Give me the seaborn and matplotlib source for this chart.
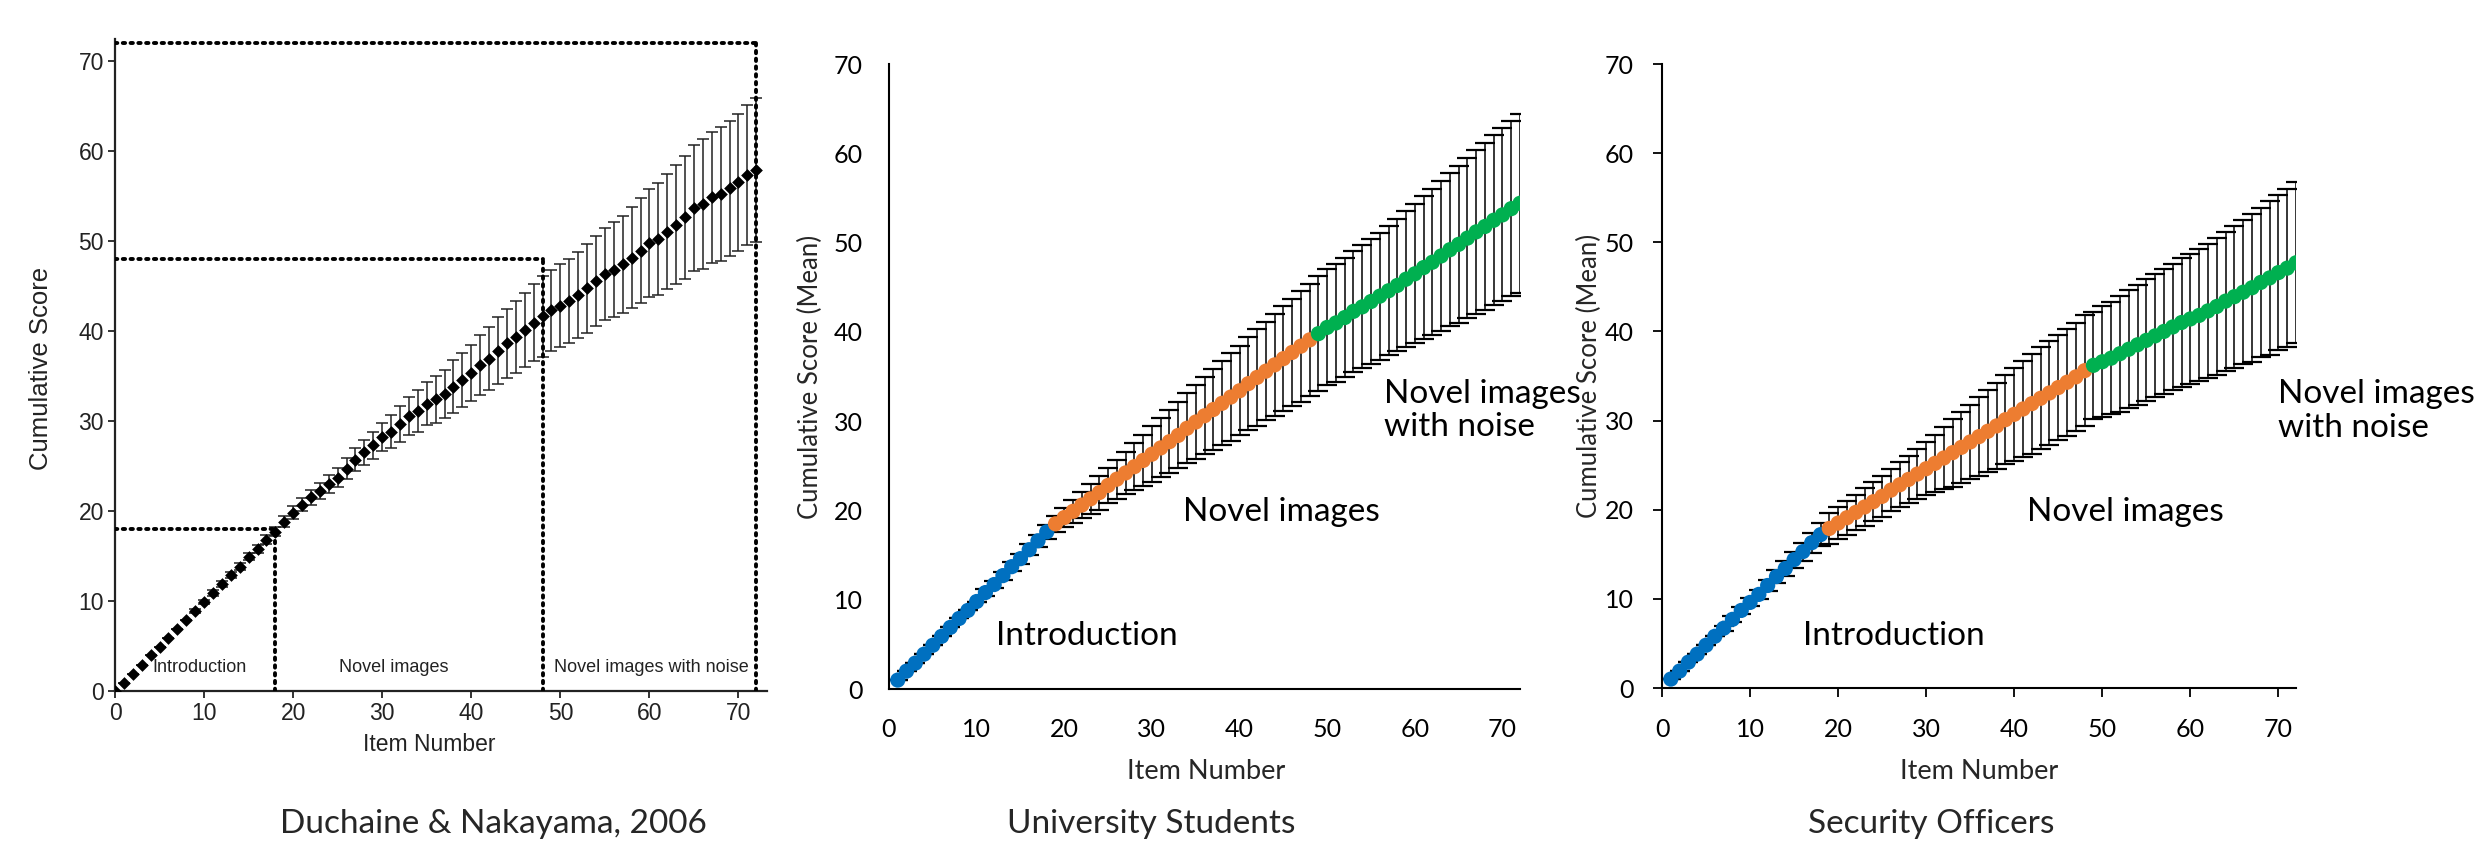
import numpy as np
import pandas as pd
import matplotlib
matplotlib.use("Agg")
import matplotlib.pyplot as plt
import seaborn as sns

# ---------------- data ----------------
# Duchaine & Nakayama (2006): items 0..72
dn_items = list(range(0, 73))
dn_mean = [0.0,
           0.9, 1.9, 2.9, 4.0, 4.9, 5.9, 6.9, 7.9, 8.9, 9.9, 10.9, 11.9, 12.9, 13.8, 14.9, 15.8, 16.8, 17.7,
           18.8, 19.8, 20.7, 21.5, 22.2, 23.0, 23.7, 24.7, 25.7, 26.5, 27.3, 28.2, 28.8, 29.7, 30.5,
           31.1, 31.9, 32.4, 33.0, 33.8, 34.5, 35.3, 36.2, 36.9, 37.8, 38.6, 39.3, 40.1, 40.9, 41.6,
           42.3, 42.8, 43.3, 44.0, 44.7, 45.5, 46.3, 46.8, 47.4, 48.1, 48.9, 49.7, 50.2, 51.0, 51.8,
           52.6, 53.6, 54.1, 54.8, 55.2, 55.8, 56.5, 57.3, 57.9]
dn_err = [0.0,
          0.0, 0.0, 0.0, 0.0, 0.0, 0.0, 0.0, 0.0, 0.2, 0.25, 0.3, 0.3, 0.35, 0.4, 0.4, 0.45, 0.5, 0.5,
          0.6, 0.7, 0.7, 0.8, 0.9, 1.0, 1.1, 1.2, 1.3, 1.4, 1.5, 1.6, 1.8, 2.0, 2.1,
          2.3, 2.4, 2.6, 2.7, 2.9, 3.0, 3.1, 3.3, 3.5, 3.7, 3.8, 4.0, 4.1, 4.3, 4.5,
          4.5, 4.6, 4.7, 4.8, 4.9, 5.0, 5.1, 5.3, 5.4, 5.6, 5.8, 6.0, 6.2, 6.4, 6.6,
          6.8, 7.0, 7.2, 7.3, 7.4, 7.5, 7.6, 7.8, 8.0]

# University Students: items 1..72
us_items = list(range(1, 73))
us_mean = [1.0, 2.0, 2.9, 3.9, 4.9, 5.9, 6.9, 7.9, 8.8, 9.8, 10.8, 11.7, 12.7, 13.7, 14.6, 15.6, 16.6, 17.6,
           18.5, 19.2, 19.9, 20.6, 21.3, 22.0, 22.8, 23.5, 24.2, 24.9, 25.6, 26.3, 27.0, 27.7, 28.4,
           29.2, 29.9, 30.6, 31.3, 32.0, 32.7, 33.4, 34.2, 34.9, 35.6, 36.3, 37.0, 37.7, 38.4, 39.1,
           39.8, 40.5, 41.0, 41.6, 42.3, 42.8, 43.4, 44.0, 44.6, 45.2, 45.9, 46.5, 47.2, 47.8, 48.5,
           49.2, 49.8, 50.5, 51.2, 51.8, 52.5, 53.1, 53.8, 54.4]
us_err = [0.0, 0.0, 0.0, 0.0, 0.0, 0.0, 0.0, 0.0, 0.0, 0.0, 0.35, 0.4, 0.45, 0.5, 0.55, 0.6, 0.7, 0.8,
          0.9, 1.1, 1.3, 1.5, 1.7, 1.9, 2.0, 2.2, 2.4, 2.6, 2.9, 3.1, 3.3, 3.5, 3.7,
          3.9, 4.1, 4.3, 4.5, 4.7, 4.9, 5.0, 5.2, 5.4, 5.5, 5.7, 5.9, 6.0, 6.2, 6.3,
          6.4, 6.5, 6.6, 6.7, 6.8, 6.9, 7.0, 7.1, 7.2, 7.4, 7.6, 7.8, 8.0, 8.2, 8.4,
          8.6, 8.8, 9.0, 9.2, 9.3, 9.5, 9.7, 9.8, 10.0]

# Security Officers: items 1..72
so_items = list(range(1, 73))
so_mean = [1.0, 1.9, 2.9, 3.8, 4.8, 5.8, 6.7, 7.7, 8.7, 9.6, 10.5, 11.5, 12.5, 13.4, 14.4, 15.3, 16.3, 17.2,
           17.9, 18.5, 19.1, 19.7, 20.3, 20.9, 21.5, 22.2, 22.8, 23.4, 24.0, 24.6, 25.2, 25.8, 26.4,
           27.0, 27.6, 28.2, 28.8, 29.4, 30.1, 30.7, 31.3, 31.9, 32.5, 33.1, 33.7, 34.3, 34.9, 35.6,
           36.2, 36.6, 37.0, 37.5, 38.0, 38.5, 39.0, 39.5, 40.0, 40.5, 41.0, 41.4, 41.8, 42.3, 42.8,
           43.4, 43.9, 44.4, 44.9, 45.5, 46.0, 46.6, 47.1, 47.7]
so_err = [0.0, 0.0, 0.0, 0.0, 0.0, 0.0, 0.3, 0.35, 0.4, 0.45, 0.5, 0.6, 0.7, 0.8, 0.9, 1.0, 1.1, 1.3,
          1.7, 1.8, 1.9, 2.0, 2.1, 2.2, 2.3, 2.4, 2.5, 2.6, 2.8, 3.0, 3.2, 3.5, 3.8,
          4.0, 4.2, 4.4, 4.6, 4.8, 5.0, 5.2, 5.4, 5.6, 5.7, 5.8, 5.9, 6.0, 6.1, 6.2,
          6.0, 6.2, 6.3, 6.5, 6.6, 6.7, 6.85, 6.9, 7.0, 7.1, 7.2, 7.25, 7.4, 7.5, 7.7,
          7.8, 7.95, 8.1, 8.3, 8.4, 8.6, 8.7, 8.9, 9.05]

phase_names = ["Introduction", "Novel images", "Novel images with noise"]
phase_ends = [18, 48, 72]
phase_colors = ["#0070C0", "#ED7D31", "#00B050"]

y_ticks = [0, 10, 20, 30, 40, 50, 60, 70]
x_ticks = [0, 10, 20, 30, 40, 50, 60, 70]
captions = ["Duchaine & Nakayama, 2006", "University Students", "Security Officers"]
x_label = "Item Number"
dn_y_label = "Cumulative Score"
y_label = "Cumulative Score (Mean)"


def phase_of(i):
    for name, end in zip(phase_names, phase_ends):
        if i <= end:
            return name
    return phase_names[-1]


# ---------------- style ----------------
sns.set_theme(style="white")
plt.rcParams["font.family"] = ["Lato", "DejaVu Sans"]
plt.rcParams["axes.linewidth"] = 1.4

W, H = 2475, 846
fig = plt.figure(figsize=(W / 100, H / 100), dpi=100)
fig.patch.set_facecolor("white")


def ax_at(x0, y_bottom_px, w, h):
    return fig.add_axes([x0 / W, (H - y_bottom_px) / H, w / W, h / H])


# ---------------- left panel (Duchaine & Nakayama) ----------------
LF = "Liberation Sans"
ax1 = ax_at(115, 691, 652, 652)
ax1.set_xlim(0, 73.2)
ax1.set_ylim(0, 72.4)
ax1.errorbar(dn_items, dn_mean, yerr=dn_err, fmt="none", ecolor="#222222",
             elinewidth=1.1, capsize=4.5, capthick=1.1, zorder=2)
dn_df = pd.DataFrame({"item": dn_items, "score": dn_mean})
sns.scatterplot(data=dn_df, x="item", y="score", ax=ax1, marker="D", s=42,
                color="black", edgecolor="black", linewidth=0, legend=False, zorder=3)
dot = dict(color="black", lw=2.8, linestyle=(0, (0.6, 1.4)), dash_capstyle="round", zorder=4)
for end in phase_ends:
    ax1.plot([0, end], [end, end], **dot)
    ax1.plot([end, end], [0, end], **dot)
ax1.set_xticks(x_ticks)
ax1.set_yticks(y_ticks)
ax1.set_xticklabels([str(t) for t in x_ticks], family=LF, fontsize=16.5, color="#222222")
ax1.set_yticklabels([str(t) for t in y_ticks], family=LF, fontsize=16.5, color="#222222")
ax1.tick_params(direction="out", length=5, width=1.3, pad=3, colors="#222222",
                left=True, bottom=True)
for side in ["top", "right"]:
    ax1.spines[side].set_visible(False)
for side in ["left", "bottom"]:
    ax1.spines[side].set_color("#222222")
    ax1.spines[side].set_linewidth(1.6)
ax1.set_xlabel("")
ax1.set_ylabel("")
fig.text(429 / W, (H - 744) / H, x_label, family=LF, fontsize=16.5,
         ha="center", va="center", color="#222222")
fig.text(41 / W, (H - 368) / H, dn_y_label, family=LF, fontsize=18.5,
         rotation=90, ha="center", va="center", color="#222222")
ax1.text(4.2, 2.6, "Introduction", family=LF, fontsize=13, ha="left", va="center", color="#222222")
ax1.text(31.3, 2.6, "Novel images", family=LF, fontsize=13, ha="center", va="center", color="#222222")
ax1.text(60.2, 2.6, "Novel images with noise", family=LF, fontsize=13, ha="center",
         va="center", color="#222222")


# ---------------- right two panels ----------------
def excel_panel(ax, items, mean, err, ticks, texts):
    ax.set_xlim(0, 72)
    ax.set_ylim(0, 70)
    ax.errorbar(items, mean, yerr=err, fmt="none", ecolor="black",
                elinewidth=1.1, capsize=7.5, capthick=1.6, zorder=2)
    df = pd.DataFrame({"item": items, "score": mean,
                       "phase": [phase_of(i) for i in items]})
    sns.scatterplot(data=df, x="item", y="score", hue="phase", hue_order=phase_names,
                    palette=phase_colors, s=120, linewidth=0, legend=False, ax=ax, zorder=3)
    ax.set_xticks(x_ticks)
    ax.set_yticks(y_ticks)
    ax.set_xticklabels([str(t) for t in x_ticks], fontsize=18)
    ax.set_yticklabels([str(t) for t in y_ticks], fontsize=18)
    if ticks:
        ax.tick_params(direction="out", length=6.5, width=1.3, color="black",
                       left=True, bottom=True)
        ax.tick_params(axis="y", pad=14)
        ax.tick_params(axis="x", pad=15)
    else:
        ax.tick_params(length=0, left=False, bottom=False)
        ax.tick_params(axis="y", pad=19)
        ax.tick_params(axis="x", pad=21)
    ax.tick_params(labelcolor="black")
    for side in ["top", "right"]:
        ax.spines[side].set_visible(False)
    for side in ["left", "bottom"]:
        ax.spines[side].set_color("black")
        ax.spines[side].set_linewidth(1.5)
    ax.set_xlabel("")
    ax.set_ylabel("")
    for (tx, ty, s) in texts:
        ax.text(tx, ty, s, fontsize=24, ha="left", va="center", color="black",
                linespacing=1.15, clip_on=False)


ax2 = ax_at(889, 689, 631, 625)
excel_panel(ax2, us_items, us_mean, us_err, False,
            [(12.2, 5.9, phase_names[0]), (33.6, 19.8, phase_names[1]),
             (56.5, 31.2, "Novel images\nwith noise")])
ax3 = ax_at(1662, 688, 634, 624)
excel_panel(ax3, so_items, so_mean, so_err, True,
            [(16.0, 5.8, phase_names[0]), (41.4, 19.7, phase_names[1]),
             (69.9, 31.1, "Novel images\nwith noise")])

fig.text(1206 / W, (H - 771) / H, x_label, fontsize=19.5, ha="center", va="center")
fig.text(1979 / W, (H - 771) / H, x_label, fontsize=19.5, ha="center", va="center")
fig.text(810 / W, (H - 377) / H, y_label, fontsize=18.5, rotation=90, ha="center", va="center")
fig.text(1589 / W, (H - 376) / H, y_label, fontsize=18.5, rotation=90, ha="center", va="center")

# captions
fig.text(493 / W, (H - 824) / H, captions[0], fontsize=24, ha="center", va="center")
fig.text(1151 / W, (H - 824) / H, captions[1], fontsize=24, ha="center", va="center")
fig.text(1931 / W, (H - 824) / H, captions[2], fontsize=24, ha="center", va="center")

fig.savefig("out.png", dpi=100, facecolor="white")
